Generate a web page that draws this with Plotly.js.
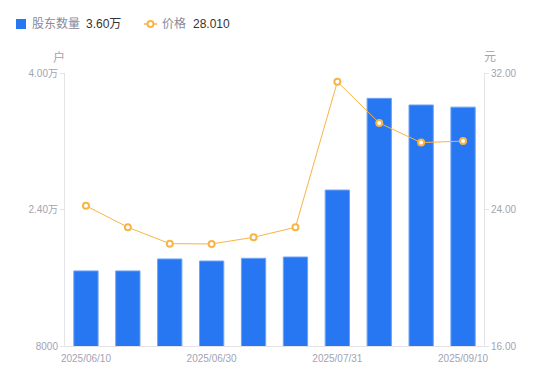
<!DOCTYPE html>
<html><head><meta charset="utf-8">
<script src="https://cdn.plot.ly/plotly-3.0.1.min.js"></script>
<style>body{margin:0;background:#fff}#c{width:550px;height:381px}</style>
</head><body><div id="c"></div>
<script>
const dates = ["2025/06/10","2025/06/17","2025/06/20","2025/06/30","2025/07/10","2025/07/18","2025/07/31","2025/08/15","2025/08/29","2025/09/10"];
const holders = [16800, 16800, 18200, 17960, 18280, 18430, 26280, 37030, 36250, 36000];
const prices = [24.22, 22.96, 22.0, 21.98, 22.37, 22.96, 31.49, 29.07, 27.92, 28.01];
const leftTicks = [8000, 24000, 40000];
const leftTickText = ["8000", "2.40万", "4.00万"];
const rightTicks = [16, 24, 32];
const rightTickText = ["16.00", "24.00", "32.00"];
const xTicks = ["2025/06/10","2025/06/30","2025/07/31","2025/09/10"];
const legendNames = ["股东数量", "价格"];
const legendValues = ["3.60万", "28.010"];

const font = "'Liberation Sans', 'Noto Sans CJK SC', sans-serif";
const gray = "#a3a3b3";
const blue = "#2776f2";
const orange = "#f8b545";
const L = 65, R = 484, T = 73, B = 346;
const px = p => (p - L) / (R - L);
const py = q => (B - q) / (B - T);

const traces = [
  {type:"bar", x:dates, y:holders, name:legendNames[0],
   marker:{color:blue, line:{color:"#6fa3f5", width:1}}, width:0.58, yaxis:"y", hoverinfo:"none"},
  {type:"scatter", mode:"lines+markers", x:dates, y:prices, yaxis:"y2", name:legendNames[1],
   line:{color:orange, width:1},
   marker:{symbol:"circle", size:6, color:"#fff", line:{color:orange, width:2}}, hoverinfo:"none"}
];
const ann = (text, x, y, color, anchor) => ({text, xref:"paper", yref:"paper", x:px(x), y:py(y),
  xanchor:anchor||"left", yanchor:"middle", showarrow:false, font:{size:12, color}});
const layout = {
  width:550, height:381, margin:{l:L, r:550-R, t:T, b:381-B, autoexpand:false},
  paper_bgcolor:"#fff", plot_bgcolor:"#fff",
  font:{family:font, size:10, color:gray},
  showlegend:false,
  xaxis:{type:"category", range:[-0.5, 9.5], tickmode:"array", tickvals:xTicks, ticktext:xTicks,
         showline:true, linecolor:"#e3e3e8", linewidth:1, ticks:"", showgrid:false, zeroline:false,
         ticklabelstandoff:3, automargin:false, tickfont:{size:10, color:gray}},
  yaxis:{range:[8000,40000], tickvals:leftTicks, ticktext:leftTickText, showgrid:false, zeroline:false,
         showline:true, linecolor:"#e3e3e8", ticks:"outside", ticklen:4, tickcolor:"#e3e3e8",
         automargin:false, tickfont:{size:10, color:gray}},
  yaxis2:{range:[16,32], tickvals:rightTicks, ticktext:rightTickText, overlaying:"y", side:"right",
          showgrid:false, zeroline:false, showline:true, linecolor:"#e3e3e8", ticks:"outside", ticklen:4,
          automargin:false, tickcolor:"#e3e3e8", tickfont:{size:10, color:gray}},
  shapes:[
    {type:"rect", xref:"paper", yref:"paper", x0:px(16), x1:px(26), y0:py(19), y1:py(29), fillcolor:blue, line:{width:0}},
    {type:"line", xref:"paper", yref:"paper", x0:px(144), x1:px(157), y0:py(24), y1:py(24), line:{color:orange, width:1.5}},
    {type:"circle", xref:"paper", yref:"paper", x0:px(147.5), x1:px(153.5), y0:py(21), y1:py(27), fillcolor:"#fff", line:{color:orange, width:2}}
  ],
  annotations:[
    ann(legendNames[0], 30, 24, "#8a8a9a"),
    ann(legendValues[0], 84, 24, "#333"),
    ann(legendNames[1], 160, 24, "#8a8a9a"),
    ann(legendValues[1], 191, 24, "#333"),
    ann("户", 59, 57, gray, "center"),
    ann("元", 490, 57, gray, "center")
  ]
};
Plotly.newPlot("c", traces, layout, {displayModeBar:false, staticPlot:true});
</script></body></html>
